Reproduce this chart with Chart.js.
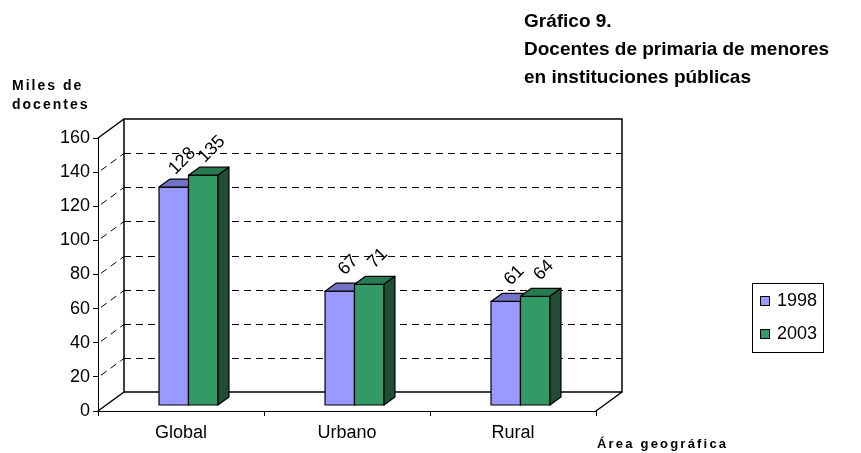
<!DOCTYPE html>
<html><head><meta charset="utf-8">
<script src="https://cdn.jsdelivr.net/npm/chart.js@4.4.1/dist/chart.umd.min.js"></script>
<style>html,body{margin:0;padding:0;background:#fff}canvas{display:block}</style>
</head><body>
<canvas id="c" width="861" height="453"></canvas>
<script>
const categories = ['Global', 'Urbano', 'Rural'];
const series1998 = [128, 67, 61];
const series2003 = [135, 71, 64];
const seriesNames = ['1998', '2003'];
const yMin = 0, yMax = 160, yStep = 20;
const titleLines = ['Gráfico 9.', 'Docentes de primaria de menores', 'en instituciones públicas'];
const yTitleLines = ['Miles de', 'docentes'];
const xTitle = 'Área geográfica';

const FONT = '"Liberation Sans", Arial, sans-serif';
const faces = [
  {front: '#9999FF', top: '#7373C6', side: '#5C5CA0'},
  {front: '#339966', top: '#287A50', side: '#1F4D36'}
];
// 3D geometry (pixels)
const WALL = {dx: 26, dy: -19};
const BAR_OFF = {dx: 7.5, dy: -5.5};
const BAR_DEPTH = {dx: 11, dy: -8};

const threeD = {
  id: 'threeD',
  beforeDatasetsDraw(chart) {
    const ctx = chart.ctx, a = chart.chartArea, ys = chart.scales.y;
    ctx.save();
    ctx.strokeStyle = '#000';
    ctx.lineWidth = 1;
    ctx.setLineDash([7, 5]);
    for (let v = yMin + yStep; v < yMax; v += yStep) {
      const y = Math.round(ys.getPixelForValue(v)) + 0.5;
      ctx.beginPath();
      ctx.moveTo(a.left + WALL.dx, y + WALL.dy);
      ctx.lineTo(a.right + WALL.dx, y + WALL.dy);
      ctx.stroke();
      ctx.beginPath();
      ctx.moveTo(a.left + 3, y - 2.2);
      ctx.lineTo(a.left + WALL.dx, y + WALL.dy);
      ctx.stroke();
    }
    ctx.setLineDash([]);
    ctx.lineWidth = 1.5;
    const top = ys.getPixelForValue(yMax), bot = ys.getPixelForValue(yMin);
    ctx.beginPath();
    ctx.moveTo(a.left + WALL.dx, bot + WALL.dy);
    ctx.lineTo(a.left + WALL.dx, top + WALL.dy);
    ctx.lineTo(a.right + WALL.dx, top + WALL.dy);
    ctx.lineTo(a.right + WALL.dx, bot + WALL.dy);
    ctx.lineTo(a.left + WALL.dx, bot + WALL.dy);
    ctx.moveTo(a.left, top); ctx.lineTo(a.left + WALL.dx, top + WALL.dy);
    ctx.moveTo(a.left, bot); ctx.lineTo(a.left + WALL.dx, bot + WALL.dy);
    ctx.moveTo(a.right, bot); ctx.lineTo(a.right + WALL.dx, bot + WALL.dy);
    ctx.stroke();
    ctx.restore();
  },
  afterDatasetsDraw(chart) {
    const ctx = chart.ctx;
    ctx.save();
    ctx.lineWidth = 1.2;
    ctx.strokeStyle = '#000';
    ctx.lineJoin = 'round';
    const metas = chart.data.datasets.map((d, i) => chart.getDatasetMeta(i));
    const n = chart.data.labels.length;
    for (let i = 0; i < n; i++) {
      metas.forEach((meta, di) => {
        const el = meta.data[i];
        const c = faces[di];
        const l = el.x - el.width / 2 + BAR_OFF.dx, r = el.x + el.width / 2 + BAR_OFF.dx;
        const t = el.y + BAR_OFF.dy, b = el.base + BAR_OFF.dy;
        const dx = BAR_DEPTH.dx, dy = BAR_DEPTH.dy;
        ctx.fillStyle = c.front;
        ctx.beginPath(); ctx.rect(l, t, r - l, b - t); ctx.fill(); ctx.stroke();
        ctx.fillStyle = c.top;
        ctx.beginPath();
        ctx.moveTo(l, t); ctx.lineTo(l + dx, t + dy); ctx.lineTo(r + dx, t + dy); ctx.lineTo(r, t); ctx.closePath();
        ctx.fill(); ctx.stroke();
        ctx.fillStyle = c.side;
        ctx.beginPath();
        ctx.moveTo(r, t); ctx.lineTo(r + dx, t + dy); ctx.lineTo(r + dx, b + dy); ctx.lineTo(r, b); ctx.closePath();
        ctx.fill(); ctx.stroke();
      });
    }
    ctx.fillStyle = '#000';
    ctx.font = '18px ' + FONT;
    ctx.textAlign = 'center';
    ctx.textBaseline = 'middle';
    metas.forEach((meta, di) => {
      meta.data.forEach((el, i) => {
        const v = chart.data.datasets[di].data[i];
        const cx = el.x + BAR_OFF.dx + BAR_DEPTH.dx / 2 + 3;
        const cy = el.y + BAR_OFF.dy + BAR_DEPTH.dy / 2 - 22;
        ctx.save();
        ctx.translate(cx, cy);
        ctx.rotate(-Math.PI / 4);
        ctx.fillText(String(v), 0, 0);
        ctx.restore();
      });
    });
    ctx.restore();
  },
  afterDraw(chart) {
    const ctx = chart.ctx;
    ctx.save();
    ctx.fillStyle = '#000';
    ctx.textBaseline = 'middle';
    ctx.textAlign = 'left';
    ctx.font = 'bold 19px ' + FONT;
    titleLines.forEach((s, i) => ctx.fillText(s, 524, 22 + i * 28));
    ctx.font = 'bold 14px ' + FONT;
    ctx.letterSpacing = '2px';
    yTitleLines.forEach((s, i) => ctx.fillText(s, 12, 86 + i * 19));
    ctx.font = 'bold 13px ' + FONT;
    ctx.letterSpacing = '2.2px';
    ctx.fillText(xTitle, 597, 444);
    ctx.letterSpacing = '0px';
    ctx.strokeStyle = '#000';
    ctx.lineWidth = 1;
    ctx.strokeRect(752.5, 283.5, 71, 69);
    ctx.font = '18px ' + FONT;
    chart.data.datasets.forEach((d, i) => {
      const y = 301 + i * 33;
      ctx.fillStyle = faces[i].front;
      ctx.fillRect(760, y - 4.5, 9, 9);
      ctx.strokeRect(760.5, y - 4.5, 9, 9);
      ctx.fillStyle = '#000';
      ctx.fillText(d.label, 777, y);
    });
    ctx.restore();
  }
};

new Chart(document.getElementById('c'), {
  type: 'bar',
  data: {
    labels: categories,
    datasets: [
      {label: seriesNames[0], data: series1998, backgroundColor: 'rgba(0,0,0,0)', borderWidth: 0},
      {label: seriesNames[1], data: series2003, backgroundColor: 'rgba(0,0,0,0)', borderWidth: 0}
    ]
  },
  options: {
    responsive: false,
    devicePixelRatio: 1,
    animation: false,
    events: [],
    layout: {padding: {left: 0, top: 138, right: 265, bottom: 0}},
    datasets: {bar: {categoryPercentage: 0.355, barPercentage: 1}},
    plugins: {legend: {display: false}, tooltip: {enabled: false}, title: {display: false}},
    scales: {
      y: {
        min: yMin, max: yMax,
        ticks: {stepSize: yStep, color: '#000', font: {size: 18, family: FONT}, padding: 3},
        grid: {drawOnChartArea: false, drawTicks: true, tickLength: 5, color: '#000'},
        border: {display: true, color: '#000', width: 1},
        afterFit: s => { s.width = 98; }
      },
      x: {
        ticks: {color: '#000', font: {size: 18, family: FONT}, padding: 6},
        grid: {drawOnChartArea: false, drawTicks: true, tickLength: 5, color: '#000', offset: true},
        border: {display: true, color: '#000', width: 1},
        afterFit: s => { s.height = 42; }
      }
    }
  },
  plugins: [threeD]
});
</script>
</body></html>
